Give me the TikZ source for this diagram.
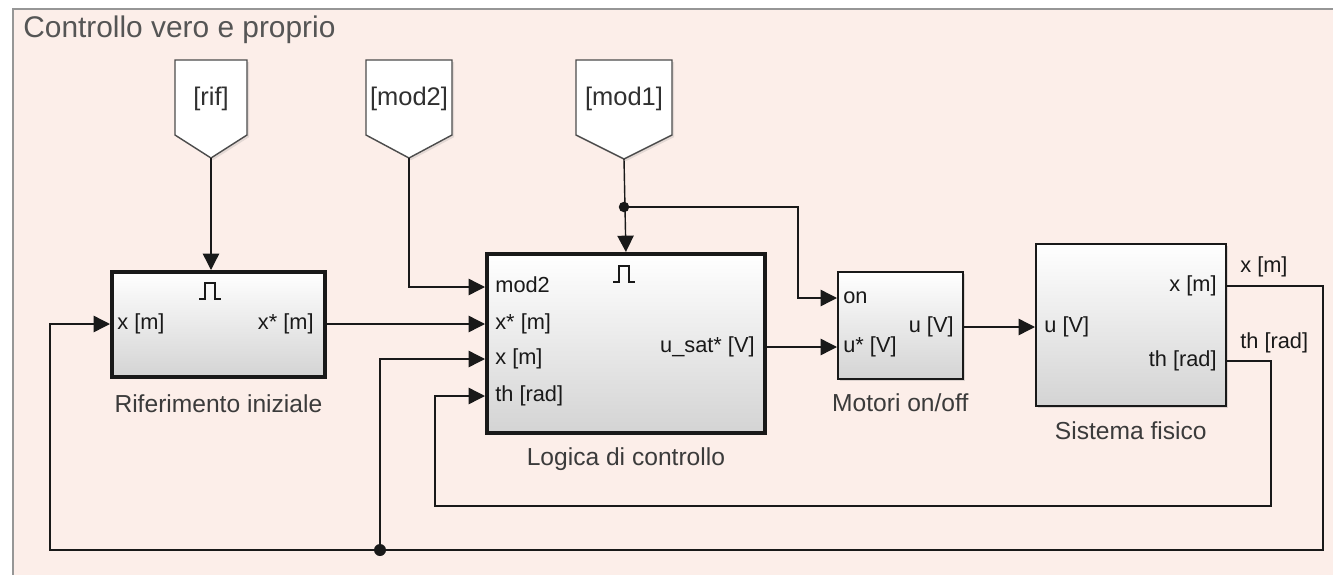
\documentclass[tikz,border=0pt]{standalone}
\usepackage{fontspec}
\setmainfont{Liberation Sans}
\usepackage{tikz}
\usetikzlibrary{arrows.meta, positioning, calc, shadows}

\definecolor{areafill}{RGB}{252,238,233}
\definecolor{areaframe}{RGB}{150,150,150}
\definecolor{titlegray}{RGB}{85,85,85}
\definecolor{ink}{RGB}{25,25,25}

\begin{document}
\begin{tikzpicture}[
    x=0.02cm, y=-0.02cm,
    >={Triangle[length=9.3pt, width=9.3pt]},
    wire/.style={draw=ink, line width=0.8pt},
    block/.style={draw=ink, rectangle, anchor=north west, top color=white, bottom color=black!17,
        drop shadow={shadow xshift=1.2pt, shadow yshift=-1.2pt, opacity=0.25}},
    trigblock/.style={block, line width=2.2pt},
    plainblock/.style={block, line width=0.9pt},
    port/.style={inner sep=0pt, text=ink, font=\fontsize{12.4}{14}\selectfont, text height=9pt, text depth=2.6pt},
    blkname/.style={inner sep=0pt, text=ink!85, font=\fontsize{14}{16}\selectfont, text height=10pt, text depth=3pt},
    tag/.style={fill=white, draw=black!70, line width=0.8pt,
        drop shadow={shadow xshift=1.2pt, shadow yshift=-1.2pt, opacity=0.2}},
    tagtxt/.style={inner sep=0pt, text=ink!90, font=\fontsize{14.5}{17}\selectfont},
    dot/.style={fill=ink},
    pulse/.pic={\draw[ink, line width=0.8pt] (-11,8) -- (-5,8) -- (-5,-8) -- (5,-8) -- (5,8) -- (11,8);},
]
    \useasboundingbox (0,0) rectangle (1333,575);
    \fill[white] (0,0) rectangle (1333,575);

    % subsystem area
    \fill[areafill] (13,9) rectangle (1345,590);
    \draw[areaframe, line width=1.1pt] (1345,9) -- (13,9) -- (13,590);
    \node[anchor=base west, inner sep=0pt, text=titlegray, font=\fontsize{17}{20}\selectfont] (title) at (23,37) {Controllo vero e proprio};

    % from tags
    \filldraw[tag] (175,60) -- (247,60) -- (247,135) -- (211,158) -- (175,135) -- cycle;
    \node[tagtxt] (rif) at (211,99) {[rif]};
    \coordinate (rif-tip) at (211,158);

    \filldraw[tag] (366,60) -- (452,60) -- (452,135) -- (409,158) -- (366,135) -- cycle;
    \node[tagtxt] (mod2) at (409,99) {[mod2]};
    \coordinate (mod2-tip) at (409,158);

    \filldraw[tag] (576,60) -- (672,60) -- (672,135) -- (624,159) -- (576,135) -- cycle;
    \node[tagtxt] (mod1) at (624,99) {[mod1]};
    \coordinate (mod1-tip) at (624,159);

    % blocks
    \node[trigblock, minimum width=4.26cm, minimum height=2.1cm]  (refblk) at (110,270) {};
    \node[trigblock, minimum width=5.56cm, minimum height=3.58cm] (logic)  at (485,252) {};
    \node[plainblock, minimum width=2.5cm, minimum height=2.14cm] (motors) at (837,271) {};
    \node[plainblock, minimum width=3.8cm, minimum height=3.24cm] (plant)  at (1035,243) {};

    \node[blkname, below=0.31cm of refblk] (refname)    {Riferimento iniziale};
    \node[blkname, below=0.25cm of logic]  (logicname)  {Logica di controllo};
    \node[blkname, below=0.29cm of motors] (motorsname) {Motori on/off};
    \node[blkname, below=0.31cm of plant]  (plantname)  {Sistema fisico};

    \pic at (210,291) {pulse};
    \pic at (624,274) {pulse};

    % ports
    \node[port, anchor=west] (ref-x)    at (117,324)  {x [m]};
    \node[port, anchor=east] (ref-xs)   at (314,324)  {x* [m]};
    \node[port, anchor=west] (log-mod2) at (495,287)  {mod2};
    \node[port, anchor=west] (log-xs)   at (495,324)  {x* [m]};
    \node[port, anchor=west] (log-x)    at (495,359)  {x [m]};
    \node[port, anchor=west] (log-th)   at (495,396)  {th [rad]};
    \node[port, anchor=east] (log-u)    at (755,347)  {u\_sat* [V]};
    \node[port, anchor=west] (mot-on)   at (843,298)  {on};
    \node[port, anchor=west] (mot-us)   at (843,347)  {u* [V]};
    \node[port, anchor=east] (mot-u)    at (954,327)  {u [V]};
    \node[port, anchor=west] (pl-u)     at (1044,327) {u [V]};
    \node[port, anchor=east] (pl-x)     at (1217,286) {x [m]};
    \node[port, anchor=east] (pl-th)    at (1217,361) {th [rad]};
    \node[port, anchor=west] (sig-x)    at (1240,267) {x [m]};
    \node[port, anchor=west] (sig-th)   at (1240,343) {th [rad]};

    % bends
    \coordinate (mod1-dot) at (624,207);
    \coordinate (on-bend)  at (798,207);
    \coordinate (x-br)     at (1323,550);
    \coordinate (x-bl)     at (50,550);
    \coordinate (x-dot)    at (380,550);
    \coordinate (th-br)    at (1271,506);
    \coordinate (th-bl)    at (435,506);

    % signals
    \draw[wire, ->] (rif-tip)  -- (rif-tip |- refblk.north);
    \draw[wire, ->] (mod2-tip) |- (logic.west |- log-mod2);
    \draw[wire, ->] (mod1-tip) -- (logic.north);
    \draw[wire, ->] (mod1-dot) -- (on-bend) |- (motors.west |- mot-on);
    \draw[wire, ->] (refblk.east |- ref-xs) -- (logic.west |- log-xs);
    \draw[wire, ->] (logic.east |- log-u)   -- (motors.west |- mot-us);
    \draw[wire, ->] (motors.east |- mot-u)  -- (plant.west |- pl-u);
    \draw[wire, ->] (plant.east |- pl-x)  -| (x-br) -- (x-bl) |- (refblk.west |- ref-x);
    \draw[wire, ->] (x-dot) |- (logic.west |- log-x);
    \draw[wire, ->] (plant.east |- pl-th) -| (th-br) -- (th-bl) |- (logic.west |- log-th);
    \fill[dot] (mod1-dot) circle[radius=0.105cm];
    \fill[dot] (x-dot)    circle[radius=0.12cm];
\end{tikzpicture}
\end{document}
